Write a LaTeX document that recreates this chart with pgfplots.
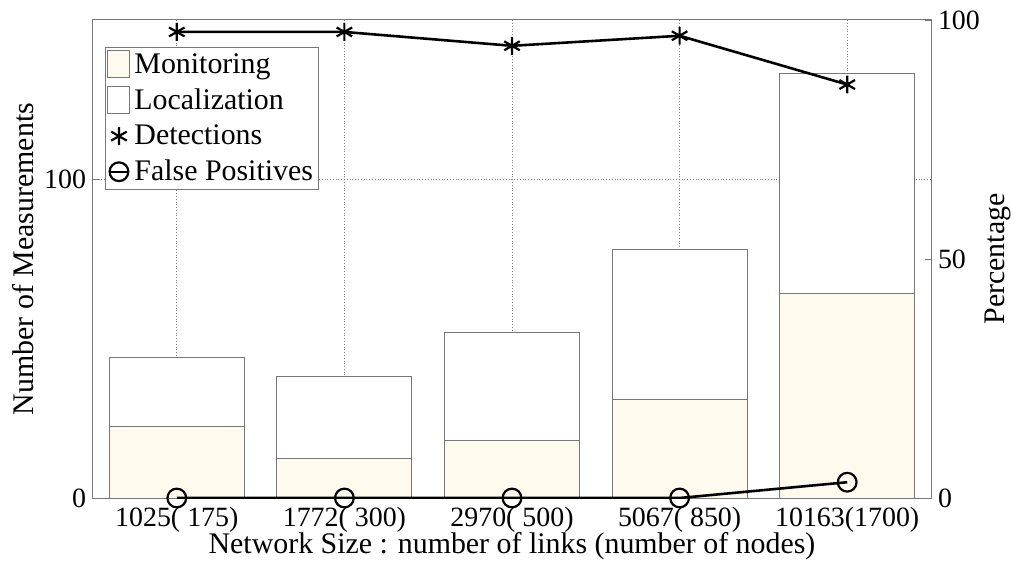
\documentclass[border=0pt]{standalone}
\usepackage{pgfplots}
\pgfplotsset{compat=1.18}
\usepackage{fontspec}
\setmainfont{Liberation Serif}
\definecolor{cream}{RGB}{254,250,238}
\definecolor{edgegray}{RGB}{120,120,120}
\begin{document}
\begin{tikzpicture}
\pgfplotsset{
  every axis/.append style={
    scale only axis, width=419bp, height=239bp,
    xmin=-0.5, xmax=4.5,
    /pgf/number format/assume math mode=true,
    tick label style={font=\fontsize{14}{16}\selectfont},
    label style={font=\fontsize{15}{17}\selectfont},
    axis line style={edgegray, line width=0.5pt},
    tick style={edgegray, line width=0.4pt},
    major tick length=3pt,
  }
}
\begin{axis}[name=ax,
  ybar stacked, bar width=0.805,
  ymin=0, ymax=150,
  ytick={0,100},
  xtick={0,1,2,3,4},
  xticklabels={{1025( 175)},{1772( 300)},{2970( 500)},{5067( 850)},{10163(1700)}},
  xtick pos=bottom, ytick pos=left,
  tick align=inside,
  xmajorgrids, ymajorgrids,
  grid style={densely dotted, gray, line width=0.4pt},
  xlabel={Network Size : number of links (number of nodes)},
  ylabel={Number of Measurements},
  xlabel style={at={(axis description cs:0.5,-0.101)}, anchor=center},
  ylabel style={at={(axis description cs:-0.0835,0.5)}, anchor=center},
  xticklabel style={anchor=center, yshift=-11bp},
]
\addplot[fill=cream, draw=edgegray, line width=0.5pt] coordinates {(0,22.3) (1,12.5) (2,18.2) (3,31) (4,64.3)};
\addplot[fill=white, draw=edgegray, line width=0.5pt] coordinates {(0,21.7) (1,25.7) (2,33.8) (3,47) (4,68.9)};
\end{axis}
\begin{axis}[
  ymin=0, ymax=100,
  ytick={0,50,100},
  axis x line=none,
  axis y line*=right,
  tick align=inside,
  ylabel={Percentage},
  ylabel style={at={(axis description cs:1.080,0.5)}, anchor=center},
  legend style={at={(0.0143,0.9435)}, anchor=north west, draw=edgegray, line width=0.5pt,
    font=\fontsize{15}{17}\selectfont, inner sep=1pt, row sep=2.2bp,
    legend cell align=left, fill=white,
    nodes={inner sep=2pt}},
]
\addlegendimage{legend image code/.code={\draw[fill=cream, draw=edgegray, line width=0.5pt] (0,-6.5bp) rectangle (11bp,7bp);}}
\addlegendentry{Monitoring}
\addlegendimage{legend image code/.code={\draw[fill=white, draw=edgegray, line width=0.5pt] (0,-6.5bp) rectangle (11bp,7bp);}}
\addlegendentry{Localization}
\addplot[black, line width=1.3pt, mark=asterisk, mark size=4.5pt, mark options={line width=1.1pt},
  legend image code/.code={\draw[black, line width=1.1pt] plot[mark=asterisk, mark size=4.5pt] coordinates {(5.5bp,0)};}]
  coordinates {(0,97.5) (1,97.5) (2,94.6) (3,96.7) (4,86.5)};
\addlegendentry{Detections}
\addplot[black, line width=1.3pt, mark=o, mark size=4.7pt, mark options={line width=1.1pt},
  legend image code/.code={\draw[black, line width=1.1pt] (0.5bp,0) -- (10.5bp,0); \draw[black, line width=1.1pt] plot[mark=o, mark size=4.7pt] coordinates {(5.5bp,0)};}]
  coordinates {(0,0) (1,0) (2,0) (3,0) (4,3.3)};
\addlegendentry{False Positives}
\end{axis}
\pgfresetboundingbox
\path ([xshift=-46.5bp,yshift=-32bp]ax.south west) rectangle ([xshift=41bp,yshift=10bp]ax.north east);
\end{tikzpicture}
\end{document}
